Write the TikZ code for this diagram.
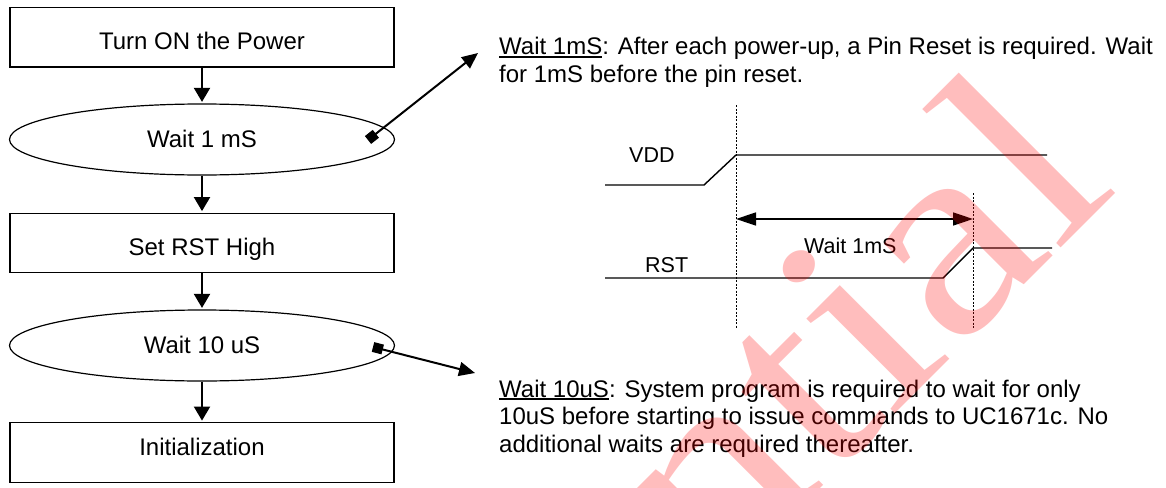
\documentclass[tikz,border=0pt]{standalone}
\usepackage{fontspec}
\setmainfont{Liberation Sans}
\newfontfamily\wmfont[FakeStretch=1.15]{Liberation Serif}
\usetikzlibrary{arrows.meta,shapes.geometric}
\newcommand\ulx[1]{\setbox0\hbox{#1}\rlap{\rule[-2.6pt]{\wd0}{1.3pt}}\box0}
\begin{document}
\begin{tikzpicture}[x=1pt,y=-1pt,
 box/.style={draw,line width=1.3pt,minimum width=384pt,minimum height=59.5pt,inner sep=0pt},
 oval/.style={draw,ellipse,line width=1.2pt,minimum width=385pt,minimum height=71pt,inner sep=0pt},
 flowtxt/.style={anchor=base,font=\fontsize{24}{27}\selectfont,inner sep=0pt},
 para/.style={anchor=base west,font=\fontsize{24}{27}\selectfont,inner sep=0pt},
 siglbl/.style={anchor=base west,font=\fontsize{21.5}{24}\selectfont,inner sep=0pt},
 flowarrow/.style={line width=2pt,shorten >=1.5pt,-{Triangle[length=14pt,width=16pt]}},
 notearrow/.style={line width=2pt,{Square[length=10pt,width=10pt]}-{Triangle[length=16pt,width=14pt]}},
 sig/.style={line width=1.4pt},
 guide/.style={line width=1pt,dash pattern=on 2pt off 1.5pt},
 span/.style={line width=1.6pt,{Triangle[length=20pt,width=13pt]}-{Triangle[length=20pt,width=13pt]}},
]
\useasboundingbox[fill=white] (0,0) rectangle (1166,487);

% flowchart
\node[box]  (b1) at (202,37.3) {};
\node[oval] (e1) at (202,139.5) {};
\node[box]  (b2) at (202,243) {};
\node[oval] (e2) at (202,345.5) {};
\node[box]  (b3) at (202,452.5) {};
\node[flowtxt] (t1) at (202,49) {Turn ON the Power};
\node[flowtxt] (t2) at (202,147) {Wait 1 mS};
\node[flowtxt] (t3) at (202,255) {Set RST High};
\node[flowtxt] (t4) at (202,353) {Wait 10 uS};
\node[flowtxt] (t5) at (202,455) {Initialization};
\draw[flowarrow] (b1.south) -- (e1.north);
\draw[flowarrow] (e1.south) -- (b2.north);
\draw[flowarrow] (b2.south) -- (e2.north);
\draw[flowarrow] (e2.south) -- (b3.north);

% note arrows
\coordinate (s1) at (368,140);
\coordinate (n1) at (478,53);
\coordinate (s2) at (373,347);
\coordinate (n2) at (475,373);
\draw[notearrow] (s1) -- (n1);
\draw[notearrow] (s2) -- (n2);

% notes
\node[para] (p1) at (499,55) {\ulx{Wait 1mS}: After each power-up, a Pin Reset is required. Wait};
\node[para] (p2) at (499,82) {for 1mS before the pin reset.};
\node[para] (p3) at (499,397) {\ulx{Wait 10uS}: System program is required to wait for only};
\node[para] (p4) at (499,424.5) {10uS before starting to issue commands to UC1671c. No};
\node[para] (p5) at (499,452) {additional waits are required thereafter.};

% timing diagram
\coordinate (v0) at (605,185);
\coordinate (v1) at (704,185);
\coordinate (v2) at (736,155);
\coordinate (v3) at (1047,155);
\coordinate (r0) at (605,278);
\coordinate (r1) at (943,278);
\coordinate (r2) at (973,248);
\coordinate (r3) at (1052,248);
\coordinate (g1a) at (736,105);
\coordinate (g1b) at (736,328);
\coordinate (g2a) at (973,193);
\coordinate (g2b) at (973,328);
\coordinate (w0) at (736,219);
\coordinate (w1) at (973,219);
\draw[sig] (v0) -- (v1) -- (v2) -- (v3);
\draw[sig] (r0) -- (r1) -- (r2) -- (r3);
\draw[guide] (g1a) -- (g1b);
\draw[guide] (g2a) -- (g2b);
\draw[span] (w0) -- (w1);
\node[siglbl] (lv) at (629,162) {VDD};
\node[siglbl] (lr) at (645,272) {RST};
\node[siglbl] (lw) at (804,253) {Wait 1mS};

% watermark
\begin{scope}
\clip (0,0) rectangle (1166,487);
\node[anchor=base east,rotate=45,inner sep=0pt,text=red,text opacity=0.26,
  font=\wmfont\fontsize{282}{282}\selectfont] (wm) at (1120,189) {Confidential};
\end{scope}
\end{tikzpicture}
\end{document}
